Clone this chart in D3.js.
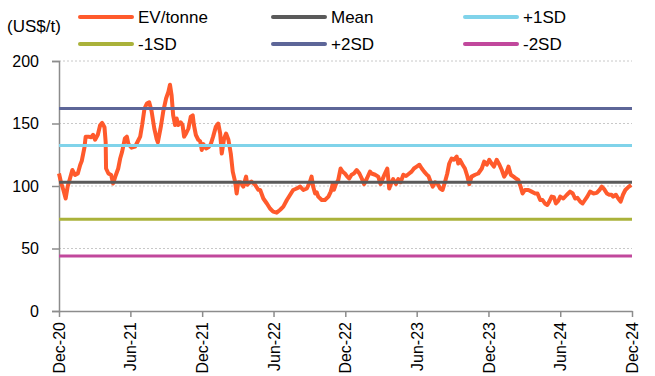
<!DOCTYPE html>
<html>
<head>
<meta charset="utf-8">
<script src="https://cdn.jsdelivr.net/npm/d3@7"></script>
<style>
  html, body { margin: 0; padding: 0; background: #fff; }
  svg { display: block; font-family: Arial, "Liberation Sans", sans-serif; }
</style>
</head>
<body>
<svg id="chart"></svg>
<script>
// EV/tonne series (date, US$/t)
const evDates = [
  '2020-12-01','2020-12-06','2020-12-12','2020-12-18','2020-12-23','2020-12-29',
  '2021-01-04','2021-01-11','2021-01-18','2021-01-24','2021-01-28','2021-02-04','2021-02-07','2021-02-14','2021-02-21','2021-02-26',
  '2021-03-03','2021-03-10','2021-03-16','2021-03-21','2021-03-27','2021-03-30','2021-03-31','2021-04-06','2021-04-13','2021-04-18','2021-04-25',
  '2021-05-01','2021-05-06','2021-05-11','2021-05-18','2021-05-23','2021-05-27','2021-06-04','2021-06-13','2021-06-20','2021-06-26',
  '2021-07-01','2021-07-07','2021-07-13','2021-07-19','2021-07-25','2021-08-01','2021-08-07','2021-08-10','2021-08-18','2021-08-24','2021-08-31',
  '2021-09-06','2021-09-10','2021-09-14','2021-09-18','2021-09-23','2021-09-27','2021-10-01','2021-10-07','2021-10-12','2021-10-16','2021-10-21','2021-10-27',
  '2021-11-02','2021-11-07','2021-11-10','2021-11-15','2021-11-21','2021-11-26','2021-11-30','2021-12-04','2021-12-11','2021-12-17','2021-12-23','2021-12-29',
  '2022-01-05','2022-01-11','2022-01-16','2022-01-20','2022-01-26','2022-01-31','2022-02-06','2022-02-12','2022-02-17','2022-02-23','2022-02-27',
  '2022-03-03','2022-03-09','2022-03-16','2022-03-23','2022-03-26','2022-03-31','2022-04-06','2022-04-15','2022-04-23','2022-04-28',
  '2022-05-06','2022-05-15','2022-05-23','2022-05-31','2022-06-09','2022-06-18','2022-06-26','2022-07-05','2022-07-13','2022-07-21','2022-07-30',
  '2022-08-08','2022-08-16','2022-08-25','2022-09-02','2022-09-06','2022-09-10','2022-09-15','2022-09-19','2022-09-23',
  '2022-10-02','2022-10-10','2022-10-19','2022-10-25','2022-10-30','2022-11-02','2022-11-07','2022-11-13','2022-11-19','2022-11-24','2022-11-30',
  '2022-12-06','2022-12-11','2022-12-17','2022-12-23','2022-12-30','2023-01-06','2023-01-12','2023-01-18','2023-01-25',
  '2023-02-02','2023-02-06','2023-02-15','2023-02-23','2023-03-01','2023-03-06','2023-03-12','2023-03-18','2023-03-23','2023-03-27',
  '2023-04-02','2023-04-09','2023-04-15','2023-04-21','2023-04-28','2023-05-05','2023-05-13','2023-05-19','2023-05-25',
  '2023-06-01','2023-06-08','2023-06-14','2023-06-20','2023-06-27','2023-07-01','2023-07-07','2023-07-12','2023-07-18','2023-07-24','2023-07-31',
  '2023-08-06','2023-08-12','2023-08-18','2023-08-23','2023-08-29','2023-09-04','2023-09-11','2023-09-15','2023-09-19','2023-09-26',
  '2023-10-02','2023-10-08','2023-10-13','2023-10-19','2023-10-28','2023-11-05','2023-11-14','2023-11-20','2023-11-27',
  '2023-12-03','2023-12-09','2023-12-15','2023-12-22','2023-12-29','2024-01-04','2024-01-10','2024-01-15','2024-01-21','2024-01-27',
  '2024-02-03','2024-02-09','2024-02-15','2024-02-21','2024-02-26','2024-03-03','2024-03-12','2024-03-20','2024-03-29',
  '2024-04-04','2024-04-11','2024-04-17','2024-04-23','2024-04-29','2024-05-04','2024-05-10','2024-05-16','2024-05-21','2024-05-27',
  '2024-06-01','2024-06-09','2024-06-18','2024-06-26','2024-07-03','2024-07-09','2024-07-15','2024-07-22','2024-07-28',
  '2024-08-03','2024-08-09','2024-08-16','2024-08-25','2024-09-02','2024-09-09','2024-09-15','2024-09-21','2024-09-28',
  '2024-10-04','2024-10-10','2024-10-14','2024-10-21','2024-10-27','2024-11-02','2024-11-08','2024-11-14','2024-11-23','2024-11-29'
];
const evValues = [
  110,103,97,90,99.5,106,
  112.8,108.8,110,116.8,120,131,139.5,139.5,139,141,
  137,141,148.8,150.5,147,135,114,110,108.8,102,108.8,
  114,122,127.5,138,139.5,133.5,130.7,131.5,135.8,139.5,
  148.8,162,166,167,160,146,137.5,135,148,160,170,
  175.5,181,172.8,156.8,148.8,154,148.8,151,148.8,139.5,142,146,
  155.5,156.5,148.8,140.8,137,135.8,128.8,133.5,130,131,133.5,139.5,
  147.5,150,142,126,138,142,137,126,111.5,103.5,94,
  103,103,99.5,107.5,101,102.5,103.5,101,97,96.8,
  90,86,82,79.5,78.7,81,83.5,88.8,92.8,96.8,98,
  99.5,96.8,98,103.5,107.5,99.5,94,95,91.5,
  88.8,88.8,91.5,95.5,101.5,97,101.5,104.8,114,111.5,110,
  107.5,106,109,110,112.8,110,106,101.5,106,
  111.5,110,109,107.5,101.5,105.5,110,114,98,101.5,
  105.5,101.5,105.5,103,109,108,110,111.5,114,
  115.5,117,114,111.5,109,108,103,99.5,103,102,98,
  96.8,103,110,118,122,121,123.5,118,121,117,
  114,108,101.5,107.5,109,110,114,119.5,117,
  121,118,115.5,121,117,112.8,107.5,110,115.5,109,
  107.5,106,104.8,99.5,94,96.8,96.8,95.5,94,
  94,88.8,88.8,86,84.8,87.5,91.5,91,86,88,
  91.5,90,93,95.5,94,90,90.5,87.5,86,
  88.8,91.5,95.5,94,94.5,96.8,99.5,97.5,94,
  93,93,91.5,93,90,87.5,93,96.8,99.5,100.8
];

// reference lines (mean and standard deviation bands)
const bandNames = ['Mean', '+1SD', '-1SD', '+2SD', '-2SD'];
const bandValues = [103, 132.5, 73.5, 162, 44];
const bandColors = ['#5a5a5a', '#80d3ea', '#aab23a', '#5d6698', '#c1489c'];
const evColor = '#ff5a2c';

// legend order as laid out in the picture
const legendNames = ['EV/tonne', 'Mean', '+1SD', '-1SD', '+2SD', '-2SD'];
const legendColors = [evColor, '#5a5a5a', '#80d3ea', '#aab23a', '#5d6698', '#c1489c'];

const xTickDates = ['2020-12-01','2021-06-01','2021-12-01','2022-06-01','2022-12-01','2023-06-01','2023-12-01','2024-06-01','2024-12-01'];
const yTicks = [0, 50, 100, 150, 200];

const width = 655, height = 376;
const margin = { top: 61, right: 23, bottom: 65, left: 59 };
const parse = d3.timeParse('%Y-%m-%d');

const svg = d3.select('#chart')
    .attr('width', width)
    .attr('height', height);

const x = d3.scaleTime()
    .domain([parse(xTickDates[0]), parse(xTickDates[xTickDates.length - 1])])
    .range([margin.left, width - margin.right]);

const y = d3.scaleLinear()
    .domain([0, 200])
    .range([height - margin.bottom, margin.top]);

const data = evDates.map((d, i) => ({ date: parse(d), value: evValues[i] }));

// dotted gridlines
svg.append('g')
    .selectAll('line')
    .data(yTicks.filter(d => d > 0))
    .join('line')
    .attr('x1', margin.left)
    .attr('x2', width - margin.right)
    .attr('y1', d => y(d))
    .attr('y2', d => y(d))
    .attr('stroke', '#c8c8c8')
    .attr('stroke-width', 1)
    .attr('stroke-dasharray', '2,2');

// y axis
const yAxis = svg.append('g')
    .attr('transform', `translate(${margin.left},0)`)
    .call(d3.axisLeft(y).tickValues(yTicks).tickSize(7).tickPadding(13));
yAxis.select('.domain').attr('stroke', '#8c8c8c').attr('stroke-width', 1.5);
yAxis.selectAll('.tick line').attr('stroke', '#8c8c8c').attr('stroke-width', 1.5);
yAxis.selectAll('.tick text')
    .attr('font-size', 16)
    .attr('fill', '#000')
    .attr('font-family', 'Arial, "Liberation Sans", sans-serif');

// x axis
const xAxis = svg.append('g')
    .attr('transform', `translate(0,${height - margin.bottom})`)
    .call(d3.axisBottom(x)
        .tickValues(xTickDates.map(parse))
        .tickFormat(d3.timeFormat('%b-%y'))
        .tickSize(6)
        .tickSizeOuter(0));
xAxis.select('.domain').attr('stroke', '#8c8c8c').attr('stroke-width', 1.5);
xAxis.selectAll('.tick line').attr('stroke', '#8c8c8c').attr('stroke-width', 1.5);
xAxis.selectAll('.tick text')
    .attr('font-size', 16)
    .attr('fill', '#000')
    .attr('font-family', 'Arial, "Liberation Sans", sans-serif')
    .attr('transform', 'rotate(-90)')
    .attr('text-anchor', 'end')
    .attr('x', -11)
    .attr('y', 0)
    .attr('dy', '0.35em');

// EV/tonne line
svg.append('path')
    .datum(data)
    .attr('fill', 'none')
    .attr('stroke', evColor)
    .attr('stroke-width', 4)
    .attr('stroke-linejoin', 'round')
    .attr('d', d3.line().x(d => x(d.date)).y(d => y(d.value)));

// mean / SD lines on top
svg.append('g')
    .selectAll('line')
    .data(bandValues)
    .join('line')
    .attr('x1', margin.left)
    .attr('x2', width - margin.right)
    .attr('y1', d => y(d))
    .attr('y2', d => y(d))
    .attr('stroke', (d, i) => bandColors[i])
    .attr('stroke-width', 3);

// unit label
svg.append('text')
    .attr('x', 7)
    .attr('y', 26)
    .attr('dy', '0.35em')
    .attr('font-size', 17)
    .text('(US$/t)');

// legend, 3 columns x 2 rows
const legendX = [80, 273, 465];
const legendY = [17, 44];
const legend = svg.append('g')
    .selectAll('g')
    .data(legendNames)
    .join('g')
    .attr('transform', (d, i) => `translate(${legendX[i % 3]},${legendY[Math.floor(i / 3)]})`);

legend.append('line')
    .attr('x1', 0)
    .attr('x2', 52)
    .attr('stroke', (d, i) => legendColors[i])
    .attr('stroke-width', 4)
    .attr('stroke-linecap', 'round');

legend.append('text')
    .attr('x', 58)
    .attr('dy', '0.35em')
    .attr('font-size', 17)
    .text(d => d);
</script>
</body>
</html>
